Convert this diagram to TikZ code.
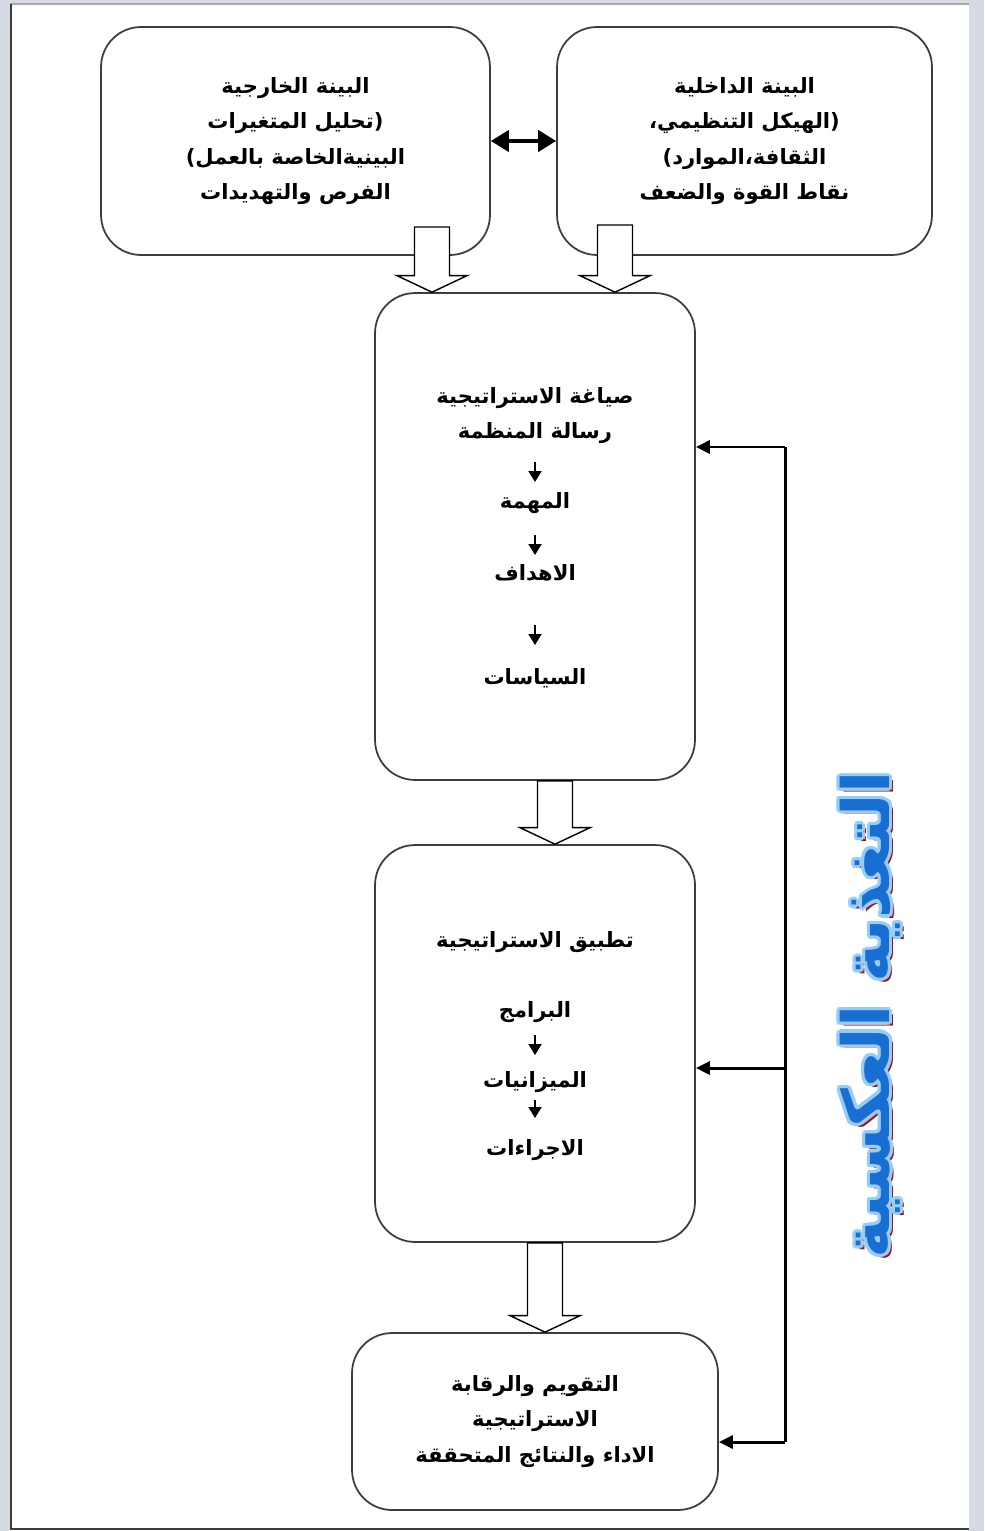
\documentclass[tikz,border=0pt]{standalone}
\usepackage{fontspec}
\usepackage{tikz}
\usetikzlibrary{arrows.meta,calc}
\newfontfamily\arabicfont[Script=Arabic]{DejaVu Sans}
\TeXXeTstate=1
\definecolor{pagegray}{RGB}{214,218,226}
\definecolor{framegray}{RGB}{60,60,60}
\definecolor{fbblue}{RGB}{25,110,210}
\definecolor{fblight}{RGB}{150,205,245}
\definecolor{fbred}{RGB}{155,20,30}
\newcommand{\ar}[1]{\beginR #1\endR}
\newcommand{\hollowarrow}[2]{%
	\draw[hollow] let \p1=(#1), \p2=(#2) in
		(\x1-0.35cm,\y1) -- (\x1+0.35cm,\y1) -- (\x1+0.35cm,\y2+0.33cm) -- (\x1+0.7cm,\y2+0.33cm)
		-- (\x1,\y2) -- (\x1-0.7cm,\y2+0.33cm) -- (\x1-0.35cm,\y2+0.33cm) -- cycle;}
\tikzset{
	box/.style={draw=framegray, line width=1pt, rounded corners=0.8cm, fill=white, align=center, inner sep=0pt,
		font=\arabicfont\bfseries\fontsize{12}{20}\selectfont},
	line/.style={inner sep=0pt, font=\arabicfont\bfseries\fontsize{12}{20}\selectfont},
	hollow/.style={draw=black, line width=0.8pt, fill=white},
	steparrow/.style={-{Triangle[length=0.22cm,width=0.26cm]}, line width=1.1pt},
	dblarrow/.style={{Triangle[length=0.36cm,width=0.42cm]}-{Triangle[length=0.36cm,width=0.42cm]}, line width=2.3pt},
	fbline/.style={line width=1.7pt},
	fbarrow/.style={-{Triangle[length=0.28cm,width=0.26cm]}, line width=1.7pt},
	sidetext/.style={rotate=90, inner sep=0pt, font=\arabicfont\bfseries\fontsize{37}{37}\selectfont}
}
\begin{document}
\begin{tikzpicture}[x=0.02cm, y=-0.02cm]
	\useasboundingbox (0,0) rectangle (984,1531);
	\fill[pagegray] (0,0) rectangle (984,1531);
	\fill[white] (10,4) rectangle (969,1531);
	\draw[gray!70, line width=0.8pt] (10,4) -- (969,4);
	\draw[framegray, line width=1.2pt] (11,4) -- (11,1529) -- (969,1529);

	\node[box, minimum width=7.78cm, minimum height=4.56cm] (ext) at (295.5,141)
		{\ar{البينة الخارجية}\\ \ar{(تحليل المتغيرات}\\ \ar{البينيةالخاصة بالعمل)}\\ \ar{الفرص والتهديدات}};
	\node[box, minimum width=7.5cm, minimum height=4.56cm] (int) at (744.5,141)
		{\ar{البينة الداخلية}\\ \ar{(الهيكل التنظيمي،}\\ \ar{الثقافة،الموارد)}\\ \ar{نقاط القوة والضعف}};
	\node[box, minimum width=6.4cm, minimum height=9.74cm] (form) at (535,536.5) {};
	\node[box, minimum width=6.4cm, minimum height=7.94cm] (impl) at (535,1043.5) {};
	\node[box, minimum width=7.32cm, minimum height=3.54cm] (eval) at (535,1421.5)
		{\ar{التقويم والرقابة}\\ \ar{الاستراتيجية}\\ \ar{الاداء والنتائج المتحققة}};

	\node[line] (t1) at (535,398) {\ar{صياغة الاستراتيجية}};
	\node[line] (t2) at (535,433) {\ar{رسالة المنظمة}};
	\node[line] (t3) at (535,503) {\ar{المهمة}};
	\node[line] (t4) at (535,573) {\ar{الاهداف}};
	\node[line] (t5) at (535,678) {\ar{السياسات}};
	\draw[steparrow, shorten <=0.58cm, shorten >=0.42cm] (t2.center) -- (t3.center);
	\draw[steparrow, shorten <=0.64cm, shorten >=0.36cm] (t3.center) -- (t4.center);
	\draw[steparrow, shorten <=1.04cm, shorten >=0.66cm] (t4.center) -- (t5.center);

	\node[line] (u1) at (535,942) {\ar{تطبيق الاستراتيجية}};
	\node[line] (u2) at (535,1012) {\ar{البرامج}};
	\node[line] (u3) at (535,1082) {\ar{الميزانيات}};
	\node[line] (u4) at (535,1150) {\ar{الاجراءات}};
	\draw[steparrow, shorten <=0.46cm, shorten >=0.54cm] (u2.center) -- (u3.center);
	\draw[steparrow, shorten <=0.36cm, shorten >=0.64cm] (u3.center) -- (u4.center);

	\draw[dblarrow] (ext.east) -- (int.west);

	\coordinate (a1) at (432,227);
	\coordinate (a2) at (615,225);
	\hollowarrow{a1}{a1 |- form.north}
	\hollowarrow{a2}{a2 |- form.north}
	\hollowarrow{$(form.south)+(20,0)$}{$(impl.north)+(20,0)$}
	\hollowarrow{$(impl.south)+(10,0)$}{$(eval.north)+(10,0)$}

	\coordinate (fbtop) at (785,447);
	\coordinate (fbmid) at (785,1068);
	\coordinate (fbbot) at (785,1442);
	\draw[fbline] (fbtop) -- (fbbot);
	\draw[fbarrow] (fbtop) -- (fbtop -| form.east);
	\draw[fbarrow] (fbmid) -- (fbmid -| impl.east);
	\draw[fbarrow] (fbbot) -- (fbbot -| eval.east);

	\node[sidetext, text=fbred] (fbshadow) at (874.5,1018.5) {\ar{التغذية العكسية}};
	\foreach \a in {0,30,...,330}
		\node[sidetext, text=fblight] at ($(870,1015)+(\a:1.8pt)$) {\ar{التغذية العكسية}};
	\node[sidetext, text=fbblue] (fblabel) at (870,1015) {\ar{التغذية العكسية}};
\end{tikzpicture}
\end{document}
